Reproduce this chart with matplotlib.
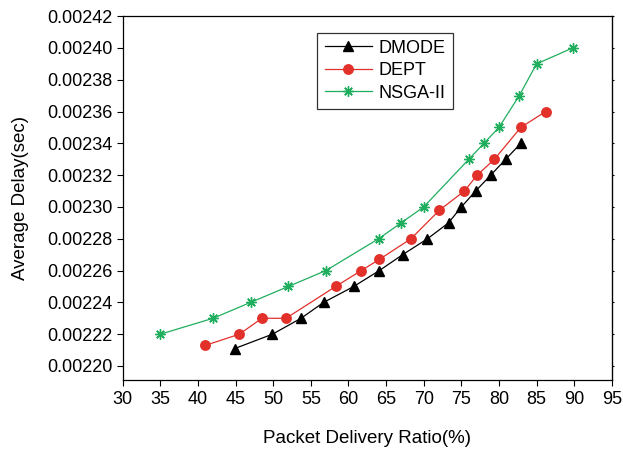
import matplotlib.pyplot as plt

plt.rcParams['font.family'] = ['Liberation Sans', 'DejaVu Sans']

# DMODE
dmode_x = [44.9, 49.9, 53.7, 56.7, 60.7, 64.1, 67.2, 70.5, 73.3, 75.0, 76.9, 78.9, 80.9, 82.9]
dmode_y = [0.002211, 0.00222, 0.00223, 0.00224, 0.00225, 0.00226, 0.00227, 0.00228,
           0.00229, 0.00230, 0.00231, 0.00232, 0.00233, 0.00234]

# DEPT
dept_x = [41.0, 45.5, 48.5, 51.7, 58.3, 61.7, 64.1, 68.3, 72.1, 75.4, 77.1, 79.4, 82.9, 86.2]
dept_y = [0.002213, 0.00222, 0.00223, 0.00223, 0.00225, 0.00226, 0.002267, 0.00228,
          0.002298, 0.00231, 0.00232, 0.00233, 0.00235, 0.00236]

# NSGA-II
nsga_x = [35, 42, 47, 52, 57, 64, 67, 70, 76, 78, 80, 82.7, 85, 89.8]
nsga_y = [0.00222, 0.00223, 0.00224, 0.00225, 0.00226, 0.00228, 0.00229, 0.00230,
          0.00233, 0.00234, 0.00235, 0.00237, 0.00239, 0.00240]

x_ticks = [30, 35, 40, 45, 50, 55, 60, 65, 70, 75, 80, 85, 90, 95]
y_ticks = [0.00220, 0.00222, 0.00224, 0.00226, 0.00228, 0.00230,
           0.00232, 0.00234, 0.00236, 0.00238, 0.00240, 0.00242]

fig = plt.figure(figsize=(6.23, 4.49), dpi=100)
ax = fig.add_axes([0.197, 0.153, 0.785, 0.811])

ax.plot(dmode_x, dmode_y, color='black', lw=0.9, marker='^', ms=7,
        markerfacecolor='black', markeredgecolor='black', label='DMODE')
ax.plot(dept_x, dept_y, color='#e2302a', lw=0.9, marker='o', ms=6.8,
        markerfacecolor='#e2302a', markeredgecolor='#e2302a', label='DEPT')
ax.plot(nsga_x, nsga_y, color='#1fae5e', lw=0.9, marker=(8, 2, 0), ms=7.5,
        markeredgewidth=1.0, label='NSGA-II')

ax.set_xlim(30, 95)
ax.set_ylim(0.002191, 0.00242)
ax.set_xticks(x_ticks)
ax.set_yticks(y_ticks)
ax.set_yticklabels([f'{v:.5f}' for v in y_ticks])
ax.tick_params(axis='both', direction='out', length=4, width=0.8, labelsize=13)
for s in ax.spines.values():
    s.set_linewidth(0.9)

# tiny ticks on the right spine
sec = ax.secondary_yaxis('right')
sec.set_yticks(y_ticks)
sec.tick_params(length=1.5, width=0.8, labelright=False)

ax.set_xlabel('Packet Delivery Ratio(%)', fontsize=13.5, labelpad=16)
ax.set_ylabel('Average Delay(sec)', fontsize=13.5, labelpad=13)

leg = ax.legend(loc='upper left', bbox_to_anchor=(0.398, 0.955), borderaxespad=0,
                fontsize=13, frameon=True, fancybox=False, shadow=False,
                handlelength=2.6, borderpad=0.4, labelspacing=0.3, handletextpad=0.4)
leg.get_frame().set_edgecolor('black')
leg.get_frame().set_linewidth(0.9)

fig.savefig('out.png', dpi=100)
